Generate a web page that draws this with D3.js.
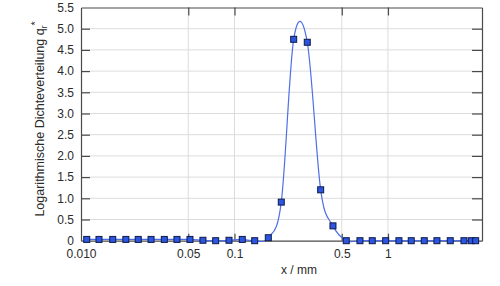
<!DOCTYPE html>
<html>
<head>
<meta charset="utf-8">
<script src="https://cdn.jsdelivr.net/npm/d3@7"></script>
<style>
  body { margin: 0; background: #fff; }
  text { font-family: "Liberation Sans", Arial, sans-serif; fill: #2a2a2a; }
  .grid line { stroke: #dcdcdc; stroke-width: 1; }
  .axis path, .axis line { stroke: #4a4a4a; stroke-width: 1.2; }
</style>
</head>
<body>
<div class="canvas"></div>
<script>
// particle size x / mm and density q_r*
const xValues = [0.0109, 0.0131, 0.0161, 0.0196, 0.0236, 0.0286, 0.0349, 0.0422, 0.0513,
  0.0623, 0.0754, 0.0921, 0.1124, 0.1354, 0.1661, 0.2018, 0.2431, 0.2981, 0.3644, 0.4383,
  0.5351, 0.6571, 0.7901, 0.9661, 1.179, 1.418, 1.724, 2.085, 2.546, 3.128, 3.49, 3.727];
const qValues = [0.03, 0.03, 0.03, 0.03, 0.03, 0.03, 0.03, 0.03, 0.03,
  0.01, 0.0, 0.01, 0.03, 0.0, 0.07, 0.91, 4.75, 4.68, 1.20, 0.35,
  0.0, 0.0, 0.0, 0.0, 0.0, 0.0, 0.0, 0.0, 0.0, 0.0, 0.0, 0.0];

const xTicks = [0.01, 0.05, 0.1, 0.5, 1];
const xTickLabels = ['0.010', '0.05', '0.1', '0.5', '1'];
const yTicks = [0, 0.5, 1, 1.5, 2, 2.5, 3, 3.5, 4, 4.5, 5, 5.5];

const data = xValues.map((x, i) => ({ x: x, q: qValues[i] }));

const dims = { width: 500, height: 286 };
const margin = { top: 7.5, right: 18, bottom: 45.3, left: 81 };

const svg = d3.select('.canvas')
    .append('svg')
    .attr('width', dims.width)
    .attr('height', dims.height);

const x = d3.scaleLog()
    .domain([0.01, 4.1])
    .range([margin.left, dims.width - margin.right]);

const y = d3.scaleLinear()
    .domain([0, 5.5])
    .range([dims.height - margin.bottom, margin.top]);

// grid
const grid = svg.append('g').attr('class', 'grid');
grid.selectAll('.hg')
    .data(yTicks.slice(1, -1))
    .enter().append('line')
    .attr('x1', x.range()[0]).attr('x2', x.range()[1])
    .attr('y1', d => y(d)).attr('y2', d => y(d));
grid.selectAll('.vg')
    .data(xTicks.slice(1))
    .enter().append('line')
    .attr('x1', d => x(d)).attr('x2', d => x(d))
    .attr('y1', y.range()[0]).attr('y2', y.range()[1]);

// axes, ticks inward
const xAxis = d3.axisBottom(x)
    .tickValues(xTicks)
    .tickFormat((d, i) => xTickLabels[i])
    .tickSizeInner(-7).tickSizeOuter(0).tickPadding(9);

svg.append('g')
    .attr('class', 'axis')
    .attr('transform', `translate(0, ${y(0)})`)
    .call(xAxis)
    .call(g => g.selectAll('text').attr('font-size', 12))
    .call(g => g.selectAll('.tick').filter(d => d === 0.01).select('line').remove());

svg.append('g')
    .attr('class', 'axis')
    .attr('transform', `translate(0, ${y(5.5)})`)
    .call(d3.axisTop(x).tickValues(xTicks.slice(1)).tickFormat('').tickSizeInner(-8).tickSizeOuter(0));

const yAxis = d3.axisLeft(y)
    .tickValues(yTicks)
    .tickFormat(d => d === 0 ? '0' : d3.format('.1f')(d))
    .tickSizeInner(-9).tickSizeOuter(0).tickPadding(7);

svg.append('g')
    .attr('class', 'axis')
    .attr('transform', `translate(${x.range()[0]}, 0)`)
    .call(yAxis)
    .call(g => g.selectAll('text').attr('font-size', 12))
    .call(g => g.selectAll('.tick').filter(d => d === 0 || d === 5.5).select('line').remove());

svg.append('g')
    .attr('class', 'axis')
    .attr('transform', `translate(${x.range()[1]}, 0)`)
    .call(d3.axisRight(y).tickValues(yTicks.slice(1, -1)).tickFormat('').tickSizeInner(-10).tickSizeOuter(0));

svg.selectAll('.axis text').style('fill', '#2a2a2a');

// curve through the points
const line = d3.line()
    .x(d => x(d.x))
    .y(d => y(d.q))
    .curve(d3.curveCatmullRom.alpha(0));

svg.append('path')
    .datum(data)
    .attr('fill', 'none')
    .attr('stroke', '#4f6fe6')
    .attr('stroke-width', 1.2)
    .attr('d', line);

// markers
svg.selectAll('.pt')
    .data(data)
    .enter().append('rect')
    .attr('x', d => x(d.x) - 3)
    .attr('y', d => y(d.q) - 3)
    .attr('width', 6)
    .attr('height', 6)
    .attr('fill', '#2c55e0')
    .attr('stroke', '#0d1a4a')
    .attr('stroke-width', 1);

// titles
svg.append('text')
    .attr('x', 299)
    .attr('y', 274)
    .attr('text-anchor', 'middle')
    .attr('font-size', 12)
    .text('x / mm');

const yTitle = svg.append('text')
    .attr('transform', 'translate(44, 119) rotate(-90)')
    .attr('text-anchor', 'middle')
    .attr('font-size', 12.5);
yTitle.append('tspan').text('Logarithmische Dichteverteilung q');
yTitle.append('tspan').attr('font-size', 8.5).attr('dy', 3).text('r');
yTitle.append('tspan').attr('font-size', 10.5).attr('dy', -8).text('*');
</script>
</body>
</html>
